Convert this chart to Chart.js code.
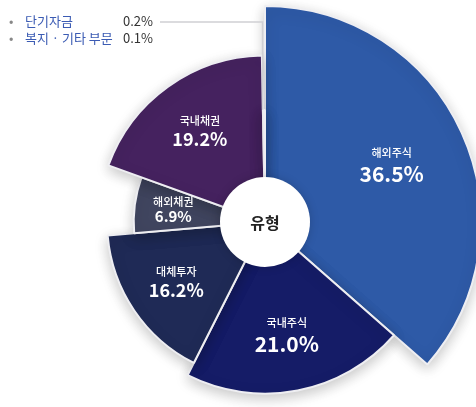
<!DOCTYPE html>
<html>
<head>
<meta charset="utf-8">
<script src="https://cdn.jsdelivr.net/npm/chart.js@4.4.1/dist/chart.umd.min.js"></script>
<style>
    html, body { margin: 0; padding: 0; background: #fff; overflow: hidden; }
    #wrap { position: relative; width: 476px; height: 407px; overflow: hidden; }
    #box { position: absolute; left: 0; top: 0; width: 700px; height: 460px; }
    #legend { position: absolute; left: 0; top: 0; font-family: 'Noto Sans CJK KR', 'Noto Sans', sans-serif; font-size: 13px; }
    .row { position: absolute; left: 0; width: 160px; height: 17px; line-height: 17px; }
    .dot { position: absolute; left: 9px; color: #888; }
    .name { position: absolute; left: 25px; color: #3b5bb3; white-space: nowrap; }
    .val { position: absolute; right: 7px; color: #333; }
</style>
</head>
<body>
<div id="wrap">
    <div id="box"><canvas id="myChart"></canvas></div>
    <div id="legend"></div>
</div>
<script>
document.addEventListener("DOMContentLoaded", function () {
    const categories = ["해외주식", "국내주식", "대체투자", "해외채권", "국내채권", "단기자금", "복지 · 기타 부문"];
    const shares = [36.5, 21.0, 16.2, 6.9, 19.2, 0.2, 0.1];
    const colors = ["#2e5aa7", "#151c67", "#1f2a56", "#40455f", "#45225f", "#111111", "#c4c4c8"];
    const centerTitle = "유형";

    const total = shares.reduce((a, b) => a + b, 0);
    const FONT = "'Noto Sans CJK KR', 'Noto Sans', sans-serif";
    const holeRadius = 45;

    // small categories go in the legend at the top left
    const legend = document.getElementById("legend");
    let row = 0;
    categories.forEach((name, i) => {
        if (shares[i] >= 1) return;
        const div = document.createElement("div");
        div.className = "row";
        div.style.top = (12 + row * 17) + "px";
        div.innerHTML = '<span class="dot">•</span><span class="name">' + name +
            '</span><span class="val">' + shares[i].toFixed(1) + '%</span>';
        legend.appendChild(div);
        row++;
    });

    const decorPlugin = {
        id: "decor",
        beforeDatasetsDraw(chart) {
            const ctx = chart.ctx;
            ctx.save();
            ctx.shadowColor = "rgba(0, 0, 0, 0.22)";
            ctx.shadowBlur = 14;
            ctx.shadowOffsetY = 4;
        },
        afterDatasetsDraw(chart) {
            const ctx = chart.ctx;
            ctx.restore();
            const scale = chart.scales.r;
            const cx = scale.xCenter;
            const cy = scale.yCenter;
            const arcs = chart.getDatasetMeta(0).data;

            // leader line from legend to the tiny slices
            const tiny = arcs.findIndex((a, i) => shares[i] < 1);
            if (tiny >= 0) {
                const a = arcs[tiny];
                const mid = (a.startAngle + a.endAngle) / 2;
                const ex = cx + Math.cos(mid) * a.outerRadius;
                const ey = cy + Math.sin(mid) * a.outerRadius;
                ctx.save();
                ctx.strokeStyle = "#cfcfd4";
                ctx.lineWidth = 1.5;
                ctx.beginPath();
                ctx.moveTo(160, 22);
                ctx.lineTo(ex - 1, 22);
                ctx.lineTo(ex - 1, ey);
                ctx.stroke();
                ctx.restore();
            }

            // center hole
            ctx.save();
            ctx.shadowColor = "rgba(0, 0, 0, 0.18)";
            ctx.shadowBlur = 10;
            ctx.fillStyle = "#ffffff";
            ctx.beginPath();
            ctx.arc(cx, cy, holeRadius, 0, Math.PI * 2);
            ctx.fill();
            ctx.restore();

            ctx.save();
            ctx.fillStyle = "#222";
            ctx.font = "600 16px " + FONT;
            ctx.textAlign = "center";
            ctx.textBaseline = "middle";
            ctx.fillText(centerTitle, cx, cy + 1);

            // slice labels
            arcs.forEach((a, i) => {
                if (shares[i] < 1) return;
                const mid = (a.startAngle + a.endAngle) / 2;
                const r = holeRadius + (a.outerRadius - holeRadius) * 0.55;
                const x = cx + Math.cos(mid) * r;
                const y = cy + Math.sin(mid) * r;
                const big = shares[i] >= 20 ? 21 : (shares[i] >= 10 ? 18 : 15);
                ctx.fillStyle = "#ffffff";
                ctx.font = "500 11px " + FONT;
                ctx.fillText(categories[i], x, y - big * 0.55);
                ctx.font = "600 " + big + "px " + FONT;
                ctx.fillText(shares[i].toFixed(1) + "%", x, y + big * 0.45);
            });
            ctx.restore();
        },
    };

    const ctx = document.getElementById("myChart").getContext("2d");
    new Chart(ctx, {
        type: "polarArea",
        data: {
            labels: categories,
            datasets: [
                {
                    data: shares,
                    backgroundColor: colors,
                    borderColor: "#eeeef2",
                    borderWidth: 2,
                    angle: (c) => (shares[c.dataIndex] / total) * 360,
                },
            ],
        },
        options: {
            responsive: true,
            maintainAspectRatio: false,
            animation: false,
            layout: { padding: { left: 49, top: 6, right: 219, bottom: 22 } },
            plugins: {
                legend: { display: false },
                tooltip: { enabled: false },
            },
            scales: {
                r: {
                    min: -39,
                    max: 36.5,
                    startAngle: 0,
                    ticks: { display: false },
                    grid: { display: false },
                    angleLines: { display: false },
                    pointLabels: { display: false },
                },
            },
        },
        plugins: [decorPlugin],
    });
});
</script>
</body>
</html>
